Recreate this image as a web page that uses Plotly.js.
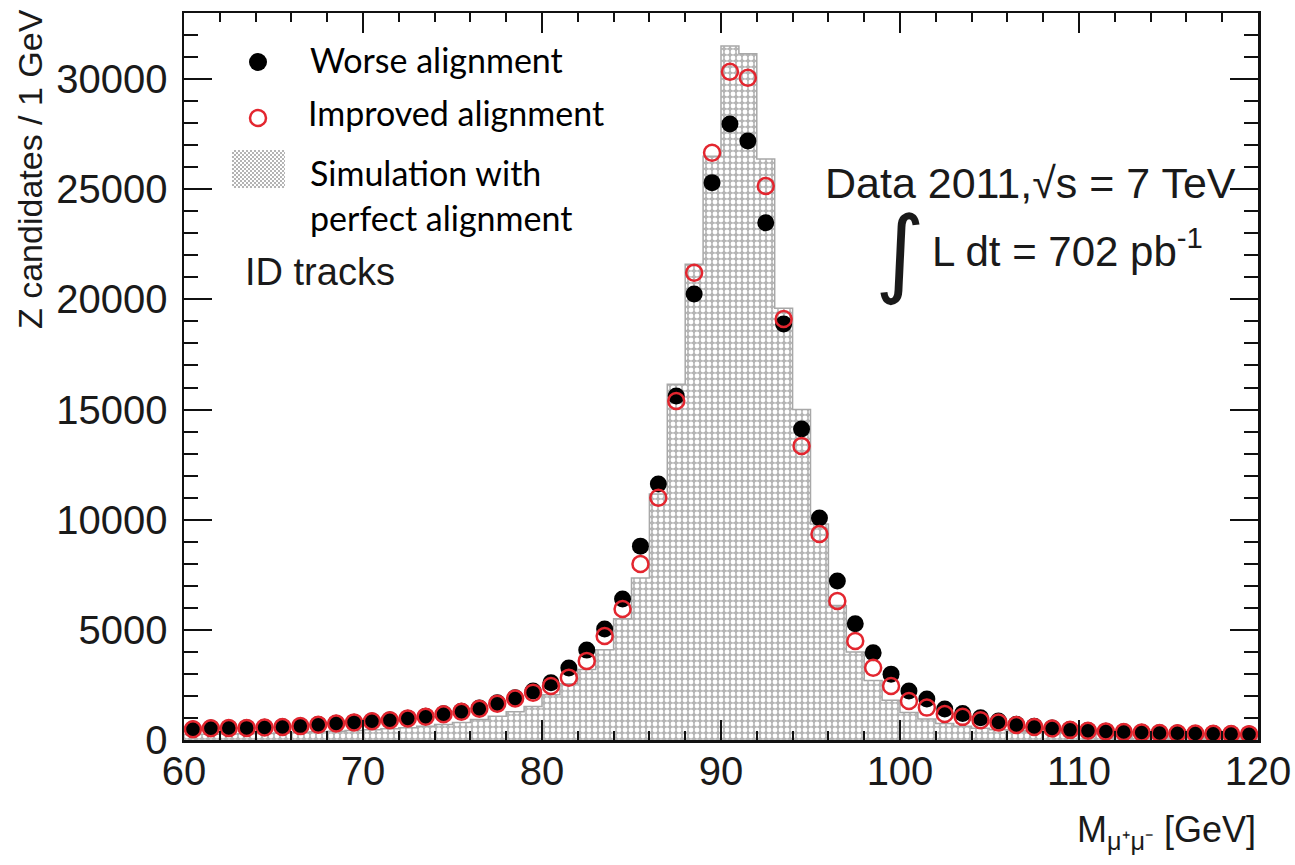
<!DOCTYPE html>
<html>
<head>
<meta charset="utf-8">
<script src="https://cdn.plot.ly/plotly-3.0.1.min.js"></script>
<style>html,body{margin:0;padding:0;background:#fff;}#chart{width:1295px;height:865px;}</style>
</head>
<body>
<div id="chart"></div>
<script>
// Bin centres of the invariant-mass histogram (1 GeV bins, 60-120 GeV)
const massBins = [60.5,61.5,62.5,63.5,64.5,65.5,66.5,67.5,68.5,69.5,
  70.5,71.5,72.5,73.5,74.5,75.5,76.5,77.5,78.5,79.5,
  80.5,81.5,82.5,83.5,84.5,85.5,86.5,87.5,88.5,89.5,
  90.5,91.5,92.5,93.5,94.5,95.5,96.5,97.5,98.5,99.5,
  100.5,101.5,102.5,103.5,104.5,105.5,106.5,107.5,108.5,109.5,
  110.5,111.5,112.5,113.5,114.5,115.5,116.5,117.5,118.5,119.5];
const binEdges = [60,61,62,63,64,65,66,67,68,69,70,71,72,73,74,75,76,77,78,79,
  80,81,82,83,84,85,86,87,88,89,90,91,92,93,94,95,96,97,98,99,
  100,101,102,103,104,105,106,107,108,109,110,111,112,113,114,115,116,117,118,119,120];

// Data: worse alignment (black dots)
const worseAlignment = [500,540,550,560,580,600,640,700,760,810,
  860,910,990,1080,1190,1300,1450,1690,1920,2220,
  2600,3270,4080,5040,6400,8800,11620,15610,20240,25300,
  27960,27190,23480,18880,14120,10080,7220,5280,3960,2990,
  2220,1860,1410,1200,1010,860,720,620,540,480,
  430,400,370,350,330,320,300,290,280,270];

// Data: improved alignment (red open circles)
const improvedAlignment = [490,530,540,550,570,590,630,690,750,800,
  850,900,980,1060,1170,1280,1420,1650,1880,2150,
  2450,2830,3590,4720,5950,7990,11000,15390,21210,26660,
  30330,30060,25150,19110,13350,9350,6310,4490,3280,2450,
  1770,1470,1180,1050,900,790,680,590,520,460,
  420,390,360,340,320,310,295,285,275,265];

// Simulation with perfect alignment (hatched histogram)
const simulation = [250,260,270,285,300,320,340,370,400,430,
  470,510,560,620,700,800,930,1080,1280,1520,
  2050,2550,3200,4100,5500,7350,11170,16150,21600,26500,
  31500,31150,26370,19600,15000,9800,6100,4000,2700,1800,
  1250,950,750,620,530,470,420,380,350,320,
  300,285,270,255,245,235,225,215,205,200];

const xTickVals = [60,70,80,90,100,110,120];
const yTickVals = [0,5000,10000,15000,20000,25000,30000];

const legendLabels = ['Worse alignment','Improved alignment','Simulation with','perfect alignment'];

// step outline built from the simulation values
const stepY = simulation.concat([simulation[simulation.length-1]]);

const helv = 'Liberation Sans, Arial, Helvetica, sans-serif';
const calib = 'Lato, Open Sans, sans-serif';

const traces = [
  {
    type: 'bar', x: massBins, y: simulation, width: 1,
    marker: {color: '#b8b8b8', line: {width: 0},
      pattern: {shape: '.', size: 6, solidity: 0.5, fgcolor: '#ffffff', bgcolor: '#b4b4b4', fillmode: 'replace'}},
    showlegend: false, hoverinfo: 'skip'
  },
  {
    type: 'scatter', mode: 'lines', x: binEdges, y: stepY,
    line: {shape: 'hv', color: '#a8a8a8', width: 1.5},
    showlegend: false, hoverinfo: 'skip'
  },
  {
    type: 'scatter', mode: 'markers', x: massBins, y: worseAlignment,
    marker: {symbol: 'circle', size: 17, color: '#000000'},
    showlegend: false
  },
  {
    type: 'scatter', mode: 'markers', x: massBins, y: improvedAlignment,
    marker: {symbol: 'circle-open', size: 16, color: '#e3262f', line: {width: 2.5, color: '#e3262f'}},
    showlegend: false
  }
];

// helpers for pixel -> paper conversion (plot area 184..1258 x, 13..740 y)
const L = 184, R = 1258, T = 13, B = 740;
const px = v => (v - L) / (R - L);
const py = v => (B - v) / (B - T);

const svg = "<svg xmlns='http://www.w3.org/2000/svg' width='53' height='38'><defs><pattern id='p' width='4' height='4' patternUnits='userSpaceOnUse'><rect width='4' height='4' fill='#b4b4b4'/><rect width='2' height='2' fill='#fff'/><rect x='2' y='2' width='2' height='2' fill='#fff'/></pattern></defs><rect width='53' height='38' fill='url(#p)'/></svg>";

const layout = {
  width: 1295, height: 865,
  margin: {l: L, r: 1295 - R, t: T, b: 865 - B, pad: 0},
  paper_bgcolor: '#ffffff', plot_bgcolor: '#ffffff',
  showlegend: false,
  bargap: 0,
  xaxis: {
    range: [60, 120], tickvals: xTickVals, ticktext: xTickVals.map(String),
    ticks: 'inside', ticklen: 20, tickwidth: 2, tickcolor: '#111',
    minor: {dtick: 2, tick0: 60, ticks: 'inside', ticklen: 9, tickwidth: 2, tickcolor: '#111'},
    showline: true, linewidth: 2.5, linecolor: '#111', mirror: 'allticks',
    showgrid: false, zeroline: false,
    tickfont: {family: helv, size: 40, color: '#1a1a1a'},
    ticklabelstandoff: -6
  },
  yaxis: {
    range: [0, 33000], tickvals: yTickVals, ticktext: yTickVals.map(String),
    ticks: 'inside', ticklen: 28, tickwidth: 2, tickcolor: '#111',
    minor: {dtick: 1000, tick0: 0, ticks: 'inside', ticklen: 14, tickwidth: 2, tickcolor: '#111'},
    showline: true, linewidth: 2.5, linecolor: '#111', mirror: 'allticks',
    showgrid: false, zeroline: false,
    tickfont: {family: helv, size: 40, color: '#1a1a1a'},
    ticklabelstandoff: 6
  },
  annotations: [
    {text: 'Z candidates / 1 GeV', xref: 'paper', yref: 'paper', x: px(30), y: py(169), textangle: -90,
      showarrow: false, xanchor: 'center', yanchor: 'middle', font: {family: helv, size: 34, color: '#1a1a1a'}},
    {text: 'M<sub>μ⁺μ⁻</sub> [GeV]', xref: 'paper', yref: 'paper', x: 1.0, y: py(832),
      showarrow: false, xanchor: 'right', yanchor: 'middle', font: {family: helv, size: 36, color: '#1a1a1a'}},
    {text: legendLabels[0], xref: 'paper', yref: 'paper', x: px(308), y: py(60), showarrow: false,
      xanchor: 'left', yanchor: 'middle', font: {family: calib, size: 34, color: '#000'}},
    {text: legendLabels[1], xref: 'paper', yref: 'paper', x: px(306), y: py(112), showarrow: false,
      xanchor: 'left', yanchor: 'middle', font: {family: calib, size: 34, color: '#000'}},
    {text: legendLabels[2], xref: 'paper', yref: 'paper', x: px(308), y: py(172), showarrow: false,
      xanchor: 'left', yanchor: 'middle', font: {family: calib, size: 34, color: '#000'}},
    {text: legendLabels[3], xref: 'paper', yref: 'paper', x: px(308), y: py(218), showarrow: false,
      xanchor: 'left', yanchor: 'middle', font: {family: calib, size: 34, color: '#000'}},
    {text: 'ID tracks', xref: 'paper', yref: 'paper', x: px(243), y: py(272), showarrow: false,
      xanchor: 'left', yanchor: 'middle', font: {family: helv, size: 38, color: '#1a1a1a'}},
    {text: 'Data 2011,√s = 7 TeV', xref: 'paper', yref: 'paper', x: px(1238), y: py(183), showarrow: false,
      xanchor: 'right', yanchor: 'middle', font: {family: helv, size: 43, color: '#1a1a1a'}},
    {text: '∫', xref: 'paper', yref: 'paper', x: px(900), y: py(252), showarrow: false,
      xanchor: 'center', yanchor: 'middle', font: {family: 'DejaVu Sans', size: 96, color: '#1a1a1a'}},
    {text: 'L dt = 702 pb<sup>-1</sup>', xref: 'paper', yref: 'paper', x: px(930), y: py(248), showarrow: false,
      xanchor: 'left', yanchor: 'middle', font: {family: helv, size: 42, color: '#1a1a1a'}}
  ],
  shapes: [
    {type: 'circle', xref: 'paper', yref: 'paper', x0: px(249), x1: px(267), y0: py(71), y1: py(53),
      fillcolor: '#000', line: {width: 0}},
    {type: 'circle', xref: 'paper', yref: 'paper', x0: px(250), x1: px(266), y0: py(126), y1: py(110),
      fillcolor: 'rgba(0,0,0,0)', line: {width: 2.5, color: '#e3262f'}}
  ],
  images: [
    {source: 'data:image/svg+xml;base64,' + btoa(svg), xref: 'paper', yref: 'paper',
      x: px(232), y: py(150), sizex: px(285) - px(232), sizey: py(150) - py(188),
      sizing: 'stretch', xanchor: 'left', yanchor: 'top', layer: 'above'}
  ]
};

Plotly.newPlot('chart', traces, layout, {displayModeBar: false, staticPlot: true});
</script>
</body>
</html>
